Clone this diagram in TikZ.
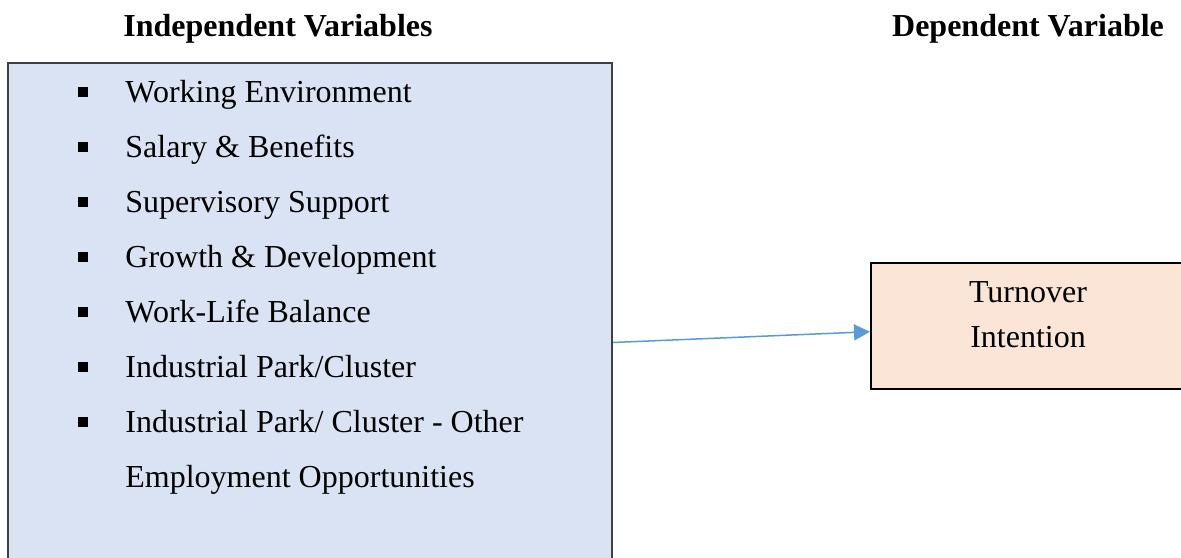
\documentclass[tikz,border=0pt]{standalone}
\usepackage{fontspec}
\setmainfont{Liberation Serif}
\usepackage{xcolor}
\usepackage{tikz}
\usetikzlibrary{arrows.meta,positioning}

\definecolor{ivfill}{HTML}{DAE3F3}
\definecolor{ivline}{HTML}{404040}
\definecolor{dvfill}{HTML}{FBE5D6}
\definecolor{linkblue}{HTML}{5B9BD5}

\begin{document}
\begin{tikzpicture}[x=0.5pt,y=-0.5pt,>=Stealth,
  txt/.style={inner sep=0pt,font=\fontsize{16}{22.5}\selectfont},
  head/.style={txt,font=\fontsize{16}{22.5}\selectfont\bfseries,anchor=base},
  varbox/.style={draw,line width=1pt,anchor=north west,inner sep=0pt},
  bulletsq/.style={fill=black,inner sep=0pt,minimum size=5pt},
  link/.style={linkblue,line width=0.75pt,-{Triangle[length=8pt,width=8pt]}}]
\clip (0,0) rectangle (1181,557);
\fill[white] (0,0) rectangle (1181,557);
% column headings
\node[head] (ivhead) at (278,36.5) {Independent Variables};
\node[head] (dvhead) at (1028,36.5) {Dependent Variable};
% the two boxes
\node[varbox,ivline,fill=ivfill,minimum width=302pt,minimum height=258pt] (ivbox) at (7,62) {};
\node[varbox,black,fill=dvfill,minimum width=159pt,minimum height=63pt] (dvbox) at (870,262) {};
% bulleted list of factors
\foreach \t [count=\i] in {Working Environment,Salary \& Benefits,Supervisory Support,
  Growth \& Development,Work-Life Balance,Industrial Park/Cluster,
  Industrial Park/ Cluster - Other}{
  \node[bulletsq] (bullet\i) at (83,{92+55*(\i-1)}) {};
  \node[txt,anchor=base west] (item\i) at (125,{102.5+55*(\i-1)}) {\t};
}
\node[txt,anchor=base west] (item8) at (125,487.5) {Employment Opportunities};
\node[txt,align=center,anchor=north] (dvtext) at (1028,281.5) {Turnover\\Intention};
% link between the boxes
\draw[link] ([yshift=-10.75pt]ivbox.east) -- ([yshift=-2.85pt]dvbox.west);
\end{tikzpicture}
\end{document}
